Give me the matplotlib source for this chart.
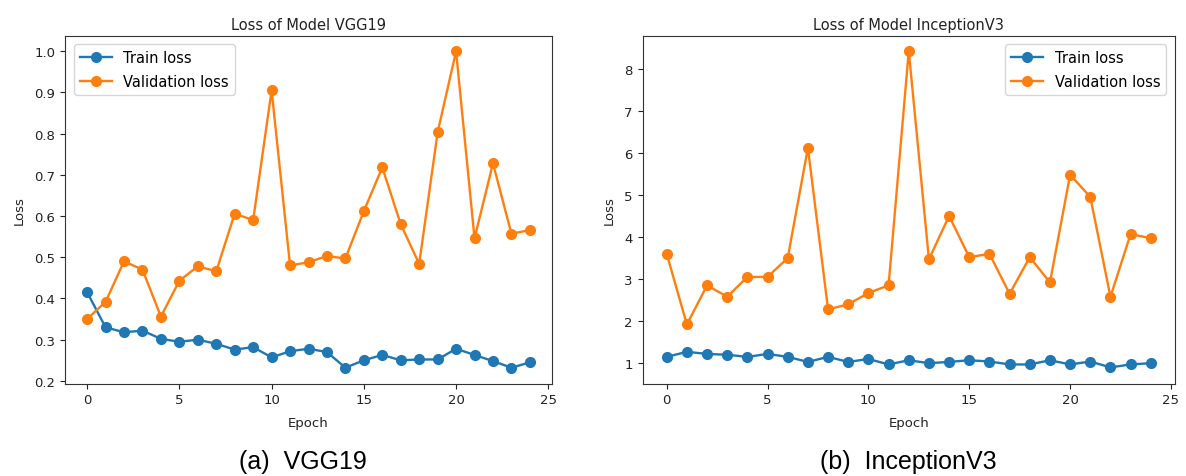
import numpy as np
import matplotlib
matplotlib.use('Agg')
import matplotlib.pyplot as plt

EPOCHS = list(range(25))

VGG_TRAIN = [0.415, 0.330, 0.318, 0.322, 0.302, 0.295, 0.300, 0.290, 0.276, 0.282,
             0.257, 0.272, 0.278, 0.270, 0.232, 0.250, 0.263, 0.250, 0.252, 0.252,
             0.278, 0.263, 0.248, 0.232, 0.245]
VGG_VAL = [0.350, 0.392, 0.490, 0.470, 0.356, 0.443, 0.478, 0.466, 0.606, 0.590,
           0.905, 0.480, 0.488, 0.503, 0.497, 0.612, 0.718, 0.580, 0.484, 0.803,
           1.000, 0.546, 0.728, 0.557, 0.566]

INC_TRAIN = [1.15, 1.27, 1.22, 1.20, 1.15, 1.22, 1.15, 1.03, 1.15, 1.03,
             1.10, 0.97, 1.07, 1.00, 1.03, 1.07, 1.04, 0.97, 0.97, 1.07,
             0.97, 1.04, 0.90, 0.97, 1.00]
INC_VAL = [3.60, 1.92, 2.85, 2.58, 3.05, 3.05, 3.50, 6.12, 2.28, 2.40,
           2.67, 2.85, 8.42, 3.47, 4.50, 3.52, 3.60, 2.65, 3.52, 2.92,
           5.48, 4.95, 2.58, 4.07, 3.97]

TITLES   = ['Loss of Model VGG19', 'Loss of Model InceptionV3']
CAPTIONS = ['(a)  VGG19', '(b)  InceptionV3']
LEGEND_LOC = ['upper left', 'upper right']

W, H = 1186, 477
fig = plt.figure(figsize=(W / 100, H / 100), dpi=100)
axes = [fig.add_axes([65 / W, 1 - 384.5 / H, 487 / W, 348 / H]),
        fig.add_axes([642.5 / W, 1 - 384.5 / H, 532.5 / W, 348 / H])]

data = [(VGG_TRAIN, VGG_VAL), (INC_TRAIN, INC_VAL)]
for i, ax in enumerate(axes):
    train, val = data[i]
    ax.plot(EPOCHS, train, color='#1f77b4', marker='o', markersize=7,
            lw=1.7, label='Train loss')
    ax.plot(EPOCHS, val, color='#ff7f0e', marker='o', markersize=7,
            lw=1.7, label='Validation loss')
    ax.set_title(TITLES[i], fontsize=10.5, pad=5, color='#222222')
    ax.set_xlabel('Epoch', fontsize=9.5, color='#222222', labelpad=7)
    ax.set_ylabel('Loss', fontsize=9.5, color='#222222', labelpad=6)
    ax.set_xticks([0, 5, 10, 15, 20, 25])
    ax.set_xlim(-1.2, 25.2)
    ax.tick_params(labelsize=9.5, colors='#222222')
    ax.legend(loc=LEGEND_LOC[i], fontsize=10.5, labelspacing=0.6,
              handlelength=2.2, borderaxespad=0.6)
    for sp in ax.spines.values():
        sp.set_color('#333333')

axes[0].set_yticks(np.arange(0.2, 1.01, 0.1))
axes[0].set_ylim(0.1937, 1.038)
axes[1].set_ylim(0.517, 8.79)

fig.text(302.5 / W, 1 - 462.5 / H, CAPTIONS[0], fontsize=18,
         family='Liberation Sans', ha='center', va='center')
fig.text(908 / W, 1 - 462.5 / H, CAPTIONS[1], fontsize=18,
         family='Liberation Sans', ha='center', va='center')

fig.savefig('out.png', dpi=100)
